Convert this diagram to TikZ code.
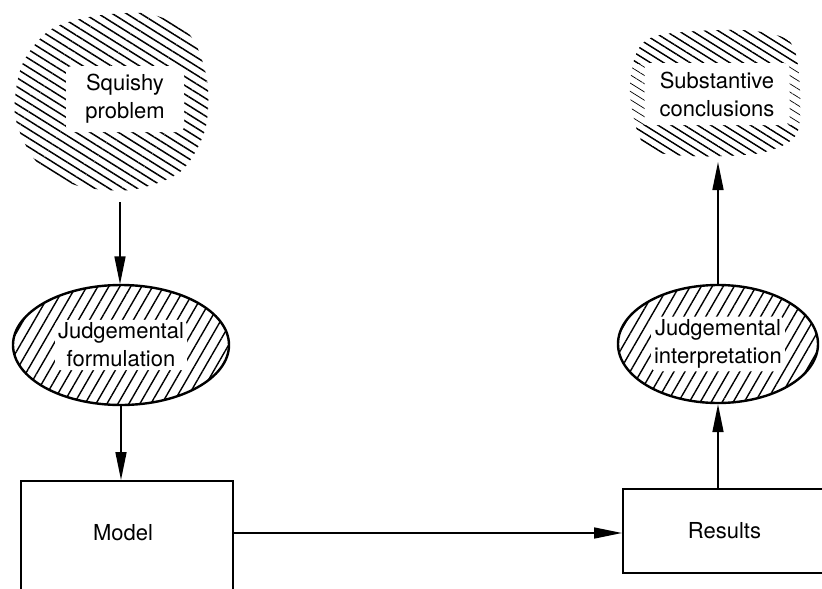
\documentclass[tikz,border=0pt]{standalone}
\usepackage{fontspec}
\setmainfont{TeX Gyre Heros}
\usetikzlibrary{patterns.meta,arrows.meta,shapes.geometric}
\tikzset{
  lbl/.style={font=\fontsize{22}{28}\selectfont, align=center},
  textbg/.style={lbl, fill=white, rounded corners=6pt, inner sep=3pt},
  oval/.style={ellipse, draw, line width=2.4pt, inner sep=0pt,
    pattern={Lines[angle=60,distance=9.5pt,line width=1.4pt]}},
  box/.style={draw, line width=2pt, inner sep=0pt},
  arr/.style={line width=1.6pt, -{Triangle[length=28pt,width=11pt]}},
  hatchA/.style={pattern={Lines[angle=-32,distance=7.5pt,line width=1.5pt]}},
  hatchB/.style={pattern={Lines[angle=-32,distance=7pt,line width=1.4pt]}},
  hatchC/.style={pattern={Lines[angle=-32,distance=7pt,line width=0.7pt]}},
}
\begin{document}
\begin{tikzpicture}[x=1pt,y=-1pt]
\useasboundingbox (0,0) rectangle (822,589);
\clip (0,0) rectangle (822,589);
% cloud 1
\fill[hatchA]
  plot[smooth cycle] coordinates {(95,16) (150,14) (190,35) (207,80) (205,130) (180,172) (130,190) (75,185) (35,160) (15,115) (22,65) (50,30)};
\node[textbg, minimum width=118pt, minimum height=66pt] (sq) at (125,99) {Squishy\\problem};
\coordinate (sqb) at (120,202);
% left ellipse
\node[oval, minimum width=216pt, minimum height=120pt] (jf) at (121,345) {};
\node[textbg] (jft) at (jf.center) {Judgemental\\formulation};
% model box
\node[box, minimum width=212pt, minimum height=124pt, anchor=north] (model) at (127,480) {};
\node[lbl] (mt) at (123,533) {Model};
% results box
\node[box, lbl, minimum width=203pt, minimum height=84pt] (res) at (724.5,531) {Results};
% right ellipse
\node[oval, minimum width=200pt, minimum height=118pt] (ie) at (718,344) {};
\node[textbg] (iet) at (ie.center) {Judgemental\\interpretation};
% cloud 2
\begin{scope}
\clip plot[smooth cycle] coordinates {(660,35) (740,30) (790,42) (800,90) (796,135) (760,153) (690,156) (645,146) (630,95) (637,52)};
\fill[hatchC] (600,0) rectangle (822,170);
\fill[hatchB] (600,0) rectangle (822,63);
\fill[hatchB] (600,125) rectangle (822,170);
\end{scope}
\node[textbg, minimum width=145pt, minimum height=62pt] (sc) at (717,94) {Substantive\\conclusions};
\coordinate (scb) at (718,162);
% connectors
\draw[arr] (sqb) -- (sqb |- jf.north);
\draw[arr] (jf.south) -- (jf.south |- model.north);
\draw[arr] (mt -| model.east) -- (mt -| res.west);
\draw[arr] (ie.south |- res.north) -- (ie.south);
\draw[arr] (ie.north) -- (scb);
\end{tikzpicture}
\end{document}
